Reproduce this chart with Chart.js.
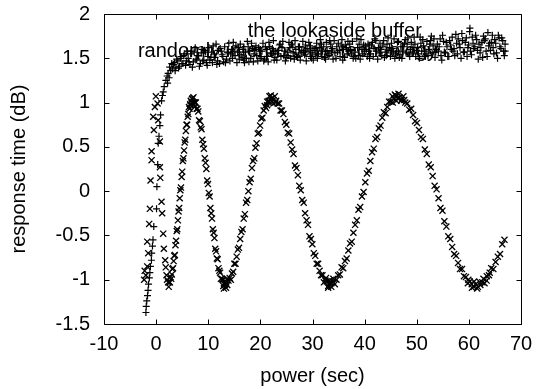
<!DOCTYPE html>
<html>
<head>
<meta charset="utf-8">
<script src="https://cdn.jsdelivr.net/npm/chart.js@4.4.1/dist/chart.umd.min.js"></script>
<style>
  html, body { margin: 0; padding: 0; background: #fff; }
</style>
</head>
<body>
<canvas id="plot" width="536" height="389"></canvas>
<script>
// x-marker series (the oscillating one)
const crossX = [
  -2.3, -2.2, -1.96, -1.71, -1.52, -1.71, -1.33, -1.2, -1.07, -0.87, -0.87, -0.43, -0.56, -0.24,
  -0.05, 0.27, 0.4, 0.72, 0.72, 0.8, 1.04, 1.16, 1.36, 1.48, 1.74, 1.85, 2.0, 2.1,
  2.30, 2.42, 2.54, 2.65, 2.77, 2.89, 3.01, 3.12, 3.24, 3.36, 3.48, 3.59, 3.71, 3.83, 3.95, 4.06,
  4.18, 4.30, 4.42, 4.53, 4.65, 4.77, 4.89, 5.00, 5.12, 5.24, 5.36, 5.47, 5.59, 5.71, 5.83, 5.94,
  6.06, 6.18, 6.30, 6.41, 6.53, 6.65, 6.77, 6.88, 7.00,
  7.16, 7.31, 7.47, 7.62, 7.78, 7.93, 8.09, 8.24, 8.40, 8.55, 8.71, 8.86, 9.02, 9.17, 9.33, 9.48,
  9.64, 9.79, 9.95, 10.10, 10.26, 10.41, 10.57, 10.72, 10.88, 11.03, 11.19, 11.34, 11.50, 11.65,
  11.81, 11.96, 12.12, 12.27, 12.43, 12.58, 12.74, 12.89, 13.05, 13.20,
  13.43, 13.65, 13.88, 14.10, 14.33, 14.55, 14.78, 15.00, 15.23, 15.45, 15.68, 15.90, 16.13, 16.35,
  16.58, 16.80, 17.03, 17.25, 17.48, 17.70, 17.93, 18.15, 18.38, 18.60, 18.83, 19.05, 19.28, 19.50,
  19.73, 19.95, 20.18, 20.40, 20.63, 20.85, 21.08, 21.30, 21.53, 21.75, 21.98, 22.20,
  22.48, 22.76, 23.03, 23.31, 23.59, 23.87, 24.14, 24.42, 24.70, 24.98, 25.25, 25.53, 25.81, 26.09,
  26.36, 26.64, 26.92, 27.20, 27.47, 27.75, 28.03, 28.31, 28.58, 28.86, 29.14, 29.42, 29.69, 29.97,
  30.25, 30.53, 30.80, 31.08, 31.36, 31.64, 31.91, 32.19, 32.47, 32.75, 33.02, 33.30,
  33.63, 33.95, 34.28, 34.60, 34.93, 35.25, 35.58, 35.90, 36.23, 36.55, 36.88, 37.20, 37.53, 37.85,
  38.18, 38.50, 38.83, 39.15, 39.48, 39.80, 40.13, 40.45, 40.78, 41.10, 41.43, 41.75, 42.08, 42.40,
  42.73, 43.05, 43.38, 43.70, 44.03, 44.35, 44.68, 45.00, 45.33, 45.65, 45.98, 46.30,
  46.68, 47.05, 47.43, 47.80, 48.18, 48.55, 48.93, 49.30, 49.68, 50.05, 50.43, 50.80, 51.18, 51.55,
  51.93, 52.30, 52.68, 53.05, 53.43, 53.80, 54.18, 54.55, 54.93, 55.30, 55.68, 56.05, 56.43, 56.80,
  57.18, 57.55, 57.93, 58.30, 58.68, 59.05, 59.43, 59.80, 60.18, 60.55, 60.93, 61.30,
  61.73, 62.15, 62.58, 63.00, 63.43, 63.85, 64.28, 64.70, 65.13, 65.55, 65.98, 66.40, 66.83,
  6.6, 7.2, 6.9, 7.4, 12.9, 13.4, 13.0, 13.6, 21.6, 22.0, 22.5, 22.9, 21.3, 32.6, 33.0, 33.6,
  34.0, 33.3, 45.4, 45.8, 46.5, 47.0, 46.1, 47.6, 59.9, 60.6, 61.0, 61.6, 62.2, 62.8, 63.4, 64.0
];
const crossY = [
  -1.0, -0.9, -0.95, -0.85, -0.7, -0.57, -0.37, -0.2, 0.12, 0.35, 0.45, 0.69, 0.84, 0.95,
  1.07, 0.99, 0.8, 0.56, 0.27, 0.15, -0.12, -0.25, -0.48, -0.65, -0.78, -0.86, -0.95, -1.0,
  -1.03, -1.08, -1.03, -1.03, -0.97, -0.99, -0.94, -0.88, -0.87, -0.79, -0.73, -0.72, -0.61, -0.56, -0.45, -0.43,
  -0.33, -0.23, -0.19, -0.08, 0.01, 0.04, 0.16, 0.22, 0.34, 0.37, 0.46, 0.55, 0.58, 0.68, 0.75, 0.75,
  0.84, 0.87, 0.95, 0.93, 0.98, 1.02, 1.00, 1.04, 1.05,
  1.06, 1.00, 1.00, 1.00, 0.93, 0.93, 0.90, 0.80, 0.79, 0.72, 0.70, 0.58, 0.53, 0.48, 0.37, 0.32,
  0.25, 0.12, 0.08, -0.02, -0.06, -0.19, -0.25, -0.31, -0.43, -0.47, -0.53, -0.65, -0.68, -0.76,
  -0.77, -0.87, -0.90, -0.92, -0.99, -0.99, -1.00, -1.07, -1.04, -1.06,
  -1.03, -1.06, -1.01, -0.98, -1.00, -0.93, -0.91, -0.82, -0.82, -0.74, -0.66, -0.64, -0.54, -0.46,
  -0.43, -0.31, -0.26, -0.13, -0.10, 0.00, 0.10, 0.14, 0.26, 0.34, 0.37, 0.49, 0.54, 0.65,
  0.66, 0.74, 0.82, 0.83, 0.91, 0.96, 0.94, 1.01, 1.01, 1.07, 1.03, 1.05,
  1.03, 1.07, 1.02, 0.99, 0.99, 0.91, 0.91, 0.87, 0.78, 0.75, 0.66, 0.65, 0.55, 0.47,
  0.42, 0.29, 0.26, 0.18, 0.06, 0.01, -0.10, -0.13, -0.25, -0.33, -0.38, -0.51, -0.54, -0.60,
  -0.70, -0.73, -0.82, -0.82, -0.90, -0.95, -0.95, -1.03, -1.01, -1.02, -1.07, -1.04,
  -1.04, -1.02, -1.05, -1.00, -0.95, -0.94, -0.86, -0.87, -0.79, -0.76, -0.67, -0.59, -0.57, -0.47,
  -0.38, -0.33, -0.21, -0.18, -0.06, -0.01, 0.10, 0.20, 0.23, 0.34, 0.44, 0.48, 0.59, 0.61,
  0.71, 0.74, 0.83, 0.89, 0.88, 0.95, 1.01, 1.01, 1.07, 1.04, 1.08, 1.05,
  1.06, 1.03, 1.07, 1.00, 0.99, 0.92, 0.93, 0.86, 0.79, 0.77, 0.69, 0.61, 0.59, 0.47,
  0.42, 0.30, 0.27, 0.17, 0.06, 0.02, -0.08, -0.19, -0.22, -0.34, -0.40, -0.51, -0.54, -0.63,
  -0.71, -0.73, -0.81, -0.88, -0.88, -0.96, -0.97, -1.04, -1.02, -1.05, -1.08, -1.05,
  -1.08, -1.03, -1.03, -1.04, -0.96, -0.95, -0.87, -0.88, -0.80, -0.74, -0.71, -0.60, -0.55,
  0.97, 0.98, 1.00, 0.95, -1.00, -1.09, -1.10, -0.99, 1.02, 1.08, 0.99, 1.00, 0.97, -0.98, -1.09, -1.08,
  -0.99, -1.01, 1.00, 1.09, 1.10, 1.02, 1.02, 1.03, -1.00, -1.09, -1.02, -1.10, -1.06, -0.99, -1.01, -0.92
];

// plus-marker series (the one that levels off near 1.6)
const plusX = [
  -1.96, -1.9, -1.8, -1.65, -1.55, -1.45, -1.3, -1.2, -1.1, -0.9, -0.85, -0.7, -0.6, -0.45,
  0.08, 0.15, 0.3, 0.4, 0.55, 0.72, 0.85, 1.04, 1.2, 1.36, 1.55, 1.87, 2.1, 2.3, 2.6, 2.8, 3.0, 2.5, 2.2,
  3.15, 3.5, 3.8, 4.15, 4.5, 4.8, 5.15, 5.5, 5.8, 6.15, 6.5, 6.8, 7.15, 7.5, 7.8, 8.15, 8.5, 8.8,
  9.15, 9.5, 9.8, 10.15, 10.5, 10.8, 11.15, 11.5, 11.8, 12.15, 12.5, 12.8, 13.15, 13.5, 13.8,
  14.15, 14.5, 14.8, 15.15, 15.5, 15.8, 16.15, 16.5, 16.8, 17.15, 17.5, 17.8, 18.15, 18.5, 18.8,
  19.15, 19.5, 19.8, 20.15, 20.5, 20.8, 21.15, 21.5, 21.8, 22.15, 22.5, 22.8, 23.15, 23.5, 23.8,
  24.15, 24.5, 24.8, 25.15, 25.5, 25.8, 26.15, 26.5, 26.8, 27.15, 27.5, 27.8, 28.15, 28.5, 28.8,
  29.15, 29.5, 29.8, 30.15, 30.5, 30.8, 31.15, 31.5, 31.8, 32.15, 32.5, 32.8, 33.15, 33.5, 33.8,
  34.15, 34.5, 34.8, 35.15, 35.5, 35.8, 36.15, 36.5, 36.8, 37.15, 37.5, 37.8, 38.15, 38.5, 38.8,
  39.15, 39.5, 39.8, 40.15, 40.5, 40.8, 41.15, 41.5, 41.8, 42.15, 42.5, 42.8, 43.15, 43.5, 43.8,
  44.15, 44.5, 44.8, 45.15, 45.5, 45.8, 46.15, 46.5, 46.8, 47.15, 47.5, 47.8, 48.15, 48.5, 48.8,
  49.15, 49.5, 49.8, 50.15, 50.5, 50.8, 51.15, 51.5, 51.8, 52.15, 52.5, 52.8, 53.15, 53.5, 53.8,
  54.15, 54.5, 54.8, 55.15, 55.5, 55.8, 56.15, 56.5, 56.8, 57.15, 57.5, 57.8, 58.15, 58.5, 58.8,
  59.15, 59.5, 59.8, 60.15, 60.5, 60.8, 61.15, 61.5, 61.8, 62.15, 62.5, 62.8, 63.15, 63.5, 63.8,
  64.15, 64.5, 64.8, 65.15, 65.5, 65.8, 66.15, 66.5, 66.8, 60.2, 66.95,
  3.3, 3.65, 3.95, 4.3, 4.65, 4.95, 5.3, 5.65, 5.95, 6.3, 6.65, 6.95, 7.3, 7.65, 7.95, 8.3, 8.65, 8.95,
  9.3, 9.65, 9.95, 10.3, 10.65, 10.95, 11.3, 11.65, 11.95, 12.3, 12.65, 12.95, 13.3, 13.65, 13.95,
  14.3, 14.65, 14.95, 15.3, 15.65, 15.95, 16.3, 16.65, 16.95, 17.3, 17.65, 17.95, 18.3, 18.65, 18.95,
  19.3, 19.65, 19.95, 20.3, 20.65, 20.95, 21.3, 21.65, 21.95, 22.3, 22.65, 22.95, 23.3, 23.65, 23.95,
  24.3, 24.65, 24.95, 25.3, 25.65, 25.95, 26.3, 26.65, 26.95, 27.3, 27.65, 27.95, 28.3, 28.65, 28.95,
  29.3, 29.65, 29.95, 30.3, 30.65, 30.95, 31.3, 31.65, 31.95, 32.3, 32.65, 32.95, 33.3, 33.65, 33.95,
  34.3, 34.65, 34.95, 35.3, 35.65, 35.95, 36.3, 36.65, 36.95, 37.3, 37.65, 37.95, 38.3, 38.65, 38.95,
  39.3, 39.65, 39.95, 40.3, 40.65, 40.95, 41.3, 41.65, 41.95, 42.3, 42.65, 42.95, 43.3, 43.65, 43.95,
  44.3, 44.65, 44.95, 45.3, 45.65, 45.95, 46.3, 46.65, 46.95, 47.3, 47.65, 47.95, 48.3, 48.65, 48.95,
  49.3, 49.65, 49.95, 50.3, 50.65, 50.95, 51.3, 51.65, 51.95, 52.3, 52.65, 52.95, 53.3, 53.65, 53.95,
  54.3, 54.65, 54.95, 55.3, 55.65, 55.95, 56.3, 56.65, 56.95, 57.3, 57.65, 57.95, 58.3, 58.65, 58.95,
  59.3, 59.65, 59.95, 60.3, 60.65, 60.95, 61.3, 61.65, 61.95, 62.3, 62.65, 62.95, 63.3, 63.65, 63.95,
  64.3, 64.65, 64.95, 65.3, 65.65, 65.95, 66.3, 66.65, 66.95
];
const plusY = [
  -1.37, -1.30, -1.24, -1.18, -1.12, -1.05, -0.98, -0.92, -0.85, -0.78, -0.70, -0.62, -0.55, -0.40,
  -0.20, 0.05, 0.30, 0.54, 0.62, 0.74, 0.86, 1.02, 1.08, 1.12, 1.18, 1.25, 1.30, 1.33, 1.40, 1.36, 1.44, 1.28, 1.22,
  1.38, 1.45, 1.40, 1.47, 1.41, 1.52, 1.44, 1.55, 1.47, 1.50, 1.43, 1.58, 1.46, 1.62, 1.49, 1.53, 1.44, 1.60,
  1.48, 1.57, 1.42, 1.62, 1.51, 1.45, 1.55, 1.66, 1.47, 1.44, 1.58, 1.52, 1.63, 1.49, 1.56,
  1.47, 1.60, 1.68, 1.53, 1.45, 1.62, 1.66, 1.51, 1.48, 1.57, 1.69, 1.46, 1.50, 1.61, 1.55,
  1.64, 1.47, 1.58, 1.52, 1.67, 1.49, 1.60, 1.46, 1.63, 1.55, 1.70, 1.51, 1.48, 1.59, 1.66,
  1.62, 1.53, 1.47, 1.57, 1.68, 1.50, 1.65, 1.49, 1.60, 1.51, 1.63, 1.56, 1.69, 1.54, 1.47,
  1.58, 1.64, 1.50, 1.48, 1.61, 1.67, 1.55, 1.71, 1.52, 1.63, 1.49, 1.58, 1.53, 1.66, 1.61,
  1.70, 1.50, 1.57, 1.59, 1.65, 1.48, 1.51, 1.62, 1.69, 1.66, 1.55, 1.50, 1.57, 1.72, 1.53,
  1.49, 1.60, 1.65, 1.64, 1.52, 1.58, 1.55, 1.68, 1.61, 1.70, 1.49, 1.56, 1.60, 1.65, 1.51,
  1.53, 1.73, 1.62, 1.67, 1.57, 1.50, 1.58, 1.69, 1.54, 1.50, 1.63, 1.71, 1.66, 1.55, 1.60,
  1.57, 1.74, 1.52, 1.62, 1.50, 1.67, 1.71, 1.58, 1.55, 1.53, 1.66, 1.75, 1.64, 1.51, 1.60,
  1.58, 1.72, 1.48, 1.69, 1.56, 1.63, 1.52, 1.65, 1.74, 1.61, 1.77, 1.55, 1.66, 1.50, 1.70,
  1.57, 1.73, 1.62, 1.80, 1.54, 1.67, 1.63, 1.71, 1.49, 1.56, 1.68, 1.75, 1.72, 1.52, 1.64,
  1.59, 1.76, 1.55, 1.67, 1.50, 1.73, 1.61, 1.70, 1.53, 1.84, 1.58,
  1.43, 1.36, 1.49, 1.39, 1.50, 1.44, 1.53, 1.42, 1.58, 1.46, 1.55, 1.40, 1.57, 1.48, 1.53, 1.41, 1.56, 1.47,
  1.59, 1.45, 1.52, 1.48, 1.57, 1.64, 1.51, 1.43, 1.59, 1.61, 1.54, 1.46, 1.45, 1.57, 1.67,
  1.55, 1.50, 1.58, 1.64, 1.57, 1.49, 1.54, 1.60, 1.45, 1.50, 1.63, 1.58, 1.67, 1.46, 1.60,
  1.53, 1.62, 1.50, 1.58, 1.47, 1.63, 1.52, 1.68, 1.56, 1.61, 1.48, 1.58, 1.55, 1.65, 1.52,
  1.69, 1.58, 1.51, 1.53, 1.62, 1.66, 1.56, 1.70, 1.52, 1.63, 1.48, 1.59, 1.57, 1.65, 1.61,
  1.68, 1.52, 1.56, 1.59, 1.54, 1.50, 1.62, 1.66, 1.58, 1.51, 1.68, 1.55, 1.70, 1.57, 1.49,
  1.56, 1.63, 1.67, 1.52, 1.71, 1.60, 1.65, 1.55, 1.58, 1.60, 1.69, 1.52, 1.50, 1.62, 1.66,
  1.71, 1.55, 1.58, 1.60, 1.66, 1.50, 1.65, 1.52, 1.72, 1.58, 1.62, 1.67, 1.53, 1.70, 1.57,
  1.66, 1.59, 1.52, 1.61, 1.72, 1.55, 1.68, 1.51, 1.63, 1.58, 1.67, 1.56, 1.73, 1.52, 1.68,
  1.62, 1.66, 1.59, 1.55, 1.74, 1.58, 1.64, 1.52, 1.69, 1.60, 1.70, 1.56, 1.72, 1.57, 1.66,
  1.63, 1.53, 1.76, 1.57, 1.68, 1.52, 1.70, 1.60, 1.58, 1.53, 1.67, 1.72, 1.62, 1.78, 1.57,
  1.68, 1.52, 1.65, 1.58, 1.74, 1.61, 1.76, 1.59, 1.66, 1.62, 1.51, 1.70, 1.58, 1.79, 1.67,
  1.68, 1.62, 1.71, 1.56, 1.76, 1.63, 1.73, 1.58, 1.66
];

const xTicks = [-10, 0, 10, 20, 30, 40, 50, 60, 70];
const yTicks = [-1.5, -1, -0.5, 0, 0.5, 1, 1.5, 2];

const noteText = ['randomly interposable technology', 'the lookaside buffer'];
const noteX = [-3.5, 17.56];
const noteY = [1.513, 1.739];

Chart.defaults.font.family = "'Liberation Sans', Arial, sans-serif";
Chart.defaults.font.size = 20;
Chart.defaults.color = '#000';

const crossPts = crossX.map((x, i) => ({ x: x, y: crossY[i] }));
const plusPts = plusX.map((x, i) => ({ x: x, y: plusY[i] }));

// text labels sit under the markers, like in the original plot
const notes = {
    id: 'notes',
    beforeDatasetsDraw(chart) {
        const { ctx, scales: { x, y } } = chart;
        ctx.save();
        ctx.font = "20px 'Liberation Sans', Arial, sans-serif";
        ctx.fillStyle = '#000';
        ctx.textAlign = 'left';
        ctx.textBaseline = 'alphabetic';
        noteText.forEach((t, i) => {
            ctx.fillText(t, x.getPixelForValue(noteX[i]), y.getPixelForValue(noteY[i]));
        });
        ctx.restore();
    }
};

// gnuplot style box with inward ticks on all four sides
const frame = {
    id: 'frame',
    afterDraw(chart) {
        const { ctx, chartArea: a, scales: { x, y } } = chart;
        const len = 5;
        ctx.save();
        ctx.strokeStyle = '#000';
        ctx.lineWidth = 1;
        ctx.beginPath();
        const l = Math.round(a.left) + 0.5, r = Math.round(a.right) + 0.5;
        const t = Math.round(a.top) + 0.5, b = Math.round(a.bottom) + 0.5;
        ctx.rect(l, t, r - l, b - t);
        xTicks.forEach(v => {
            const px = Math.round(x.getPixelForValue(v)) + 0.5;
            ctx.moveTo(px, b); ctx.lineTo(px, b - len);
            ctx.moveTo(px, t); ctx.lineTo(px, t + len);
        });
        yTicks.forEach(v => {
            const py = Math.round(y.getPixelForValue(v)) + 0.5;
            ctx.moveTo(l, py); ctx.lineTo(l + len, py);
            ctx.moveTo(r, py); ctx.lineTo(r - len, py);
        });
        ctx.stroke();
        ctx.restore();
    }
};

new Chart(document.getElementById('plot'), {
    type: 'scatter',
    data: {
        datasets: [
            {
                label: 'plus',
                data: plusPts,
                pointStyle: 'cross',
                pointRadius: 3.5,
                borderWidth: 1.2,
                borderColor: '#000',
                backgroundColor: '#000'
            },
            {
                label: 'cross',
                data: crossPts,
                pointStyle: 'crossRot',
                pointRadius: 4.3,
                borderWidth: 1.3,
                borderColor: '#000',
                backgroundColor: '#000'
            }
        ]
    },
    options: {
        responsive: false,
        animation: false,
        devicePixelRatio: 1,
        layout: { padding: { left: 0, right: 15, top: 14, bottom: 0 } },
        plugins: {
            legend: { display: false },
            tooltip: { enabled: false }
        },
        scales: {
            x: {
                type: 'linear',
                min: -10,
                max: 70,
                afterFit: s => {
                    s.height = 65;
                    s.paddingLeft = 0;
                    s.paddingRight = 0;
                },
                afterBuildTicks: s => { s.ticks = xTicks.map(v => ({ value: v })); },
                ticks: { padding: 8, callback: v => String(v) },
                grid: { display: false, drawTicks: false },
                border: { display: false },
                title: { display: true, text: 'power (sec)', padding: { top: 0, bottom: 1 } }
            },
            y: {
                type: 'linear',
                min: -1.5,
                max: 2,
                afterFit: s => {
                    s.width = 104;
                    s.paddingTop = 0;
                    s.paddingBottom = 0;
                },
                afterBuildTicks: s => { s.ticks = yTicks.map(v => ({ value: v })); },
                ticks: { padding: 14, callback: v => String(v) },
                grid: { display: false, drawTicks: false },
                border: { display: false },
                title: { display: true, text: 'response time (dB)', padding: { top: 7, bottom: 0 } }
            }
        }
    },
    plugins: [notes, frame]
});
</script>
</body>
</html>
